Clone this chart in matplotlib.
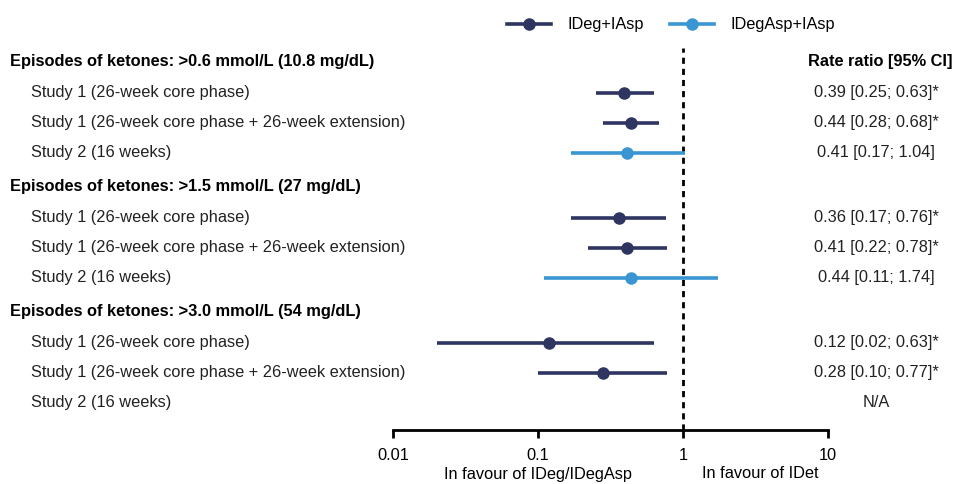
import numpy as np
import matplotlib.pyplot as plt
from matplotlib.lines import Line2D
from matplotlib.transforms import blended_transform_factory

plt.rcParams['font.family'] = ['Liberation Sans', 'DejaVu Sans']

headers = ['Episodes of ketones: >0.6 mmol/L (10.8 mg/dL)',
           'Episodes of ketones: >1.5 mmol/L (27 mg/dL)',
           'Episodes of ketones: >3.0 mmol/L (54 mg/dL)']
studies = ['Study 1 (26-week core phase)',
           'Study 1 (26-week core phase + 26-week extension)',
           'Study 2 (16 weeks)']

# rate ratio, lower, upper per group (None = N/A)
est = [[0.39, 0.44, 0.41], [0.36, 0.41, 0.44], [0.12, 0.28, None]]
low = [[0.25, 0.28, 0.17], [0.17, 0.22, 0.11], [0.02, 0.10, None]]
high = [[0.63, 0.68, 1.04], [0.76, 0.78, 1.74], [0.63, 0.77, None]]
signif = [[True, True, False], [True, True, False], [True, True, False]]
# treatment: 0 = IDeg+IAsp, 1 = IDegAsp+IAsp
treat = [0, 0, 1]
treat_names = ['IDeg+IAsp', 'IDegAsp+IAsp']
colors = ['#2e3561', '#3a96d2']

fs = 11.8

fig = plt.figure(figsize=(9.54, 4.84), dpi=100)
ax = fig.add_axes([393 / 954, 1 - 430 / 484, (828 - 393) / 954, (430 - 48) / 484])
ax.set_xscale('log')
ax.set_xlim(0.01, 10)
ax.set_ylim(430, 48)

trans = blended_transform_factory(fig.transFigure, ax.transData)

y = 62
for g in range(3):
    ax.text(10 / 954, y, headers[g], transform=trans, fontsize=fs, fontweight='bold',
            va='center', ha='left')
    if g == 0:
        ax.text(880 / 954, y, 'Rate ratio [95% CI]', transform=trans, fontsize=fs,
                fontweight='bold', va='center', ha='center')
    y += 31
    for s in range(3):
        ax.text(31 / 954, y, studies[s], transform=trans, fontsize=fs,
                va='center', ha='left', color='#222222')
        if est[g][s] is None:
            label = 'N/A'
        else:
            c = colors[treat[s]]
            ax.plot([low[g][s], high[g][s]], [y, y], color=c, lw=2.6,
                    solid_capstyle='butt', clip_on=False)
            ax.plot(est[g][s], y, 'o', color=c, ms=8, clip_on=False)
            label = '%.2f [%.2f; %.2f]' % (est[g][s], low[g][s], high[g][s])
            if signif[g][s]:
                label += '*'
        ax.text(876 / 954, y, label, transform=trans, fontsize=fs,
                va='center', ha='center', color='#222222')
        y += 30
    y += 4

ax.axvline(1, color='black', lw=2, ls=(0, (2.2, 1.8)), zorder=0)

for sp in ['top', 'right', 'left']:
    ax.spines[sp].set_visible(False)
ax.spines['bottom'].set_linewidth(2)
ax.set_yticks([])
ax.set_xticks([0.01, 0.1, 1, 10])
ax.set_xticklabels(['0.01', '0.1', '1', '10'])
ax.xaxis.set_minor_locator(plt.NullLocator())
ax.tick_params(axis='x', direction='out', length=6, width=2, labelsize=fs, pad=7)

fig.text(538 / 954, 1 - 474 / 484, 'In favour of IDeg/IDegAsp', ha='center', va='center', fontsize=fs)
fig.text(760 / 954, 1 - 474 / 484, 'In favour of IDet', ha='center', va='center', fontsize=fs)

handles = [Line2D([], [], color=colors[i], lw=2.6, marker='o', ms=8) for i in range(2)]
fig.legend(handles, treat_names, loc='center', bbox_to_anchor=(671 / 954, 1 - 25 / 484),
           ncol=2, frameon=False, fontsize=fs, handlelength=2.7, handletextpad=1.0,
           columnspacing=1.6)

fig.savefig('out.png', dpi=100)
